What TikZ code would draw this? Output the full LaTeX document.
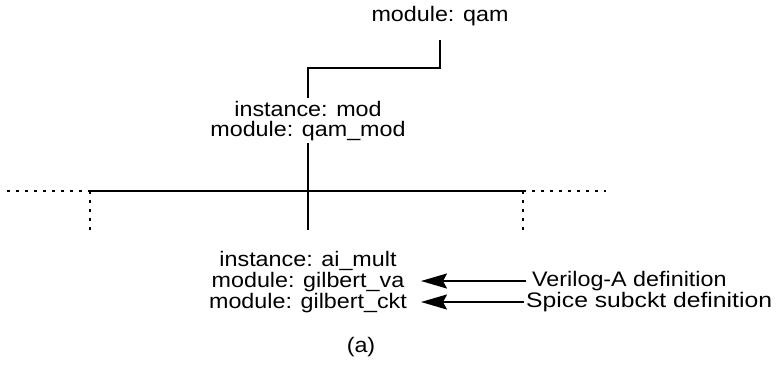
\documentclass[tikz,border=0pt]{standalone}
\usepackage{fontspec}
\setmainfont{Liberation Sans}[FakeStretch=1.11]
\usetikzlibrary{arrows.meta}
\begin{document}
\begin{tikzpicture}[x=1pt,y=-1pt,
  lbl/.style={inner sep=0pt,anchor=base,font=\fontsize{21}{21}\selectfont},
  side/.style={inner sep=2pt,anchor=west,font=\fontsize{21}{21}\selectfont},
  solidline/.style={line width=2pt},
  dotline/.style={line width=2.2pt,dash pattern=on 3pt off 6pt},
  arr/.style={line width=2pt,-{Stealth[length=26pt,width=15pt,inset=4pt]}}]
\useasboundingbox (0,0) rectangle (776,368);
% texts
\node[lbl] (qam) at (440,21) {module: qam};
\node[lbl] (instm) at (308,116) {instance: mod};
\node[lbl] (qmod) at (308,136) {module: qam\_mod};
\node[lbl] (ai) at (308,266) {instance: ai\_mult};
\node[lbl] (va) at (308,287) {module: gilbert\_va};
\node[lbl] (ckt) at (308,308) {module: gilbert\_ckt};
\node[lbl] (cap) at (361,352) {(a)};
\node[side] (verilog) at (530,281) {Verilog-A definition};
\node[side] (spice) at (524,302) {\scalebox{1.06}[1]{Spice subckt definition}};
% connector qam -> mod
\coordinate (bend) at (374,68);
\draw[solidline] ([yshift=-19pt]qam.base) |- (bend) -| ([yshift=18pt]instm.base);
% bus
\coordinate (L) at (90,191);
\coordinate (R) at (523,191);
\coordinate (Lend) at (7,191);
\coordinate (Rend) at (606,191);
\coordinate (Lb) at (90,230);
\coordinate (Rb) at (523,230);
\draw[solidline] (L) -- (R);
\draw[solidline] ([yshift=-7pt]qmod.base) -- ([yshift=36pt]ai.base);
\draw[dotline] (Lend) -- (L);
\draw[dotline] (R) -- (Rend);
\draw[dotline] (L) -- (Lb);
\draw[dotline] (R) -- (Rb);
% arrows
\coordinate (tipva) at (421,281);
\coordinate (tipckt) at (421,302);
\draw[arr] ([xshift=-4pt]verilog.west) -- (tipva);
\draw[arr] (spice.west) -- (tipckt);
\end{tikzpicture}
\end{document}
